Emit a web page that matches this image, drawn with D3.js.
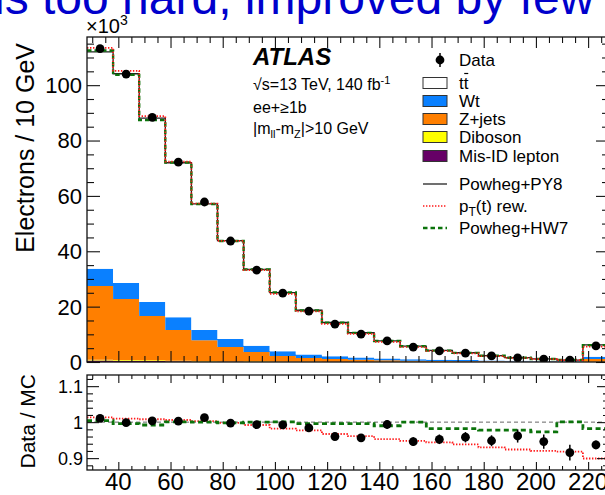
<!DOCTYPE html>
<html><head><meta charset="utf-8">
<script src="https://cdn.jsdelivr.net/npm/d3@7"></script>
<style>
html,body{margin:0;padding:0;background:#fff;}
svg{display:block;font-family:"Liberation Sans",Arial,Helvetica,sans-serif;}
</style></head><body>
<svg id="chart" width="605" height="495"></svg>
<script>
// Electron pT binning in GeV (last bin holds the overflow)
const binEdges = [28,38,48,58,68,78,88,98,108,118,128,138,148,158,168,178,188,198,208,218,228];

// Event counts per bin, in units of 10^3
const dataCounts = [113.2,104.0,88.4,72.2,57.8,43.7,33.2,24.9,18.4,13.7,10.1,7.6,5.4,4.0,3.2,2.2,1.5,1.05,0.65,5.8];
const dataRelErr = [0.004,0.004,0.004,0.005,0.005,0.006,0.007,0.008,0.009,0.010,0.011,0.012,0.013,0.014,0.015,0.016,0.019,0.021,0.024,0.013];
const ttbar   = [78.4,75.6,66.4,55.8,45.5,35.5,27.6,21.2,16.0,12.2,8.96,6.4,4.7,3.37,2.66,1.75,1.08,0.72,0.40,4.3];
const wt      = [6.2,5.8,5.1,4.6,3.7,2.9,2.2,1.7,1.3,1.0,0.8,0.65,0.55,0.45,0.38,0.32,0.27,0.22,0.18,0.8];
const zjets   = [26.6,22.0,16.0,11.1,7.5,5.1,3.4,2.0,1.25,0.95,0.7,0.52,0.4,0.32,0.26,0.21,0.17,0.14,0.11,0.95];
const diboson = [0.30,0.28,0.24,0.20,0.17,0.14,0.11,0.09,0.07,0.06,0.05,0.04,0.03,0.03,0.02,0.02,0.02,0.02,0.01,0.08];
const misid   = [0.55,0.45,0.35,0.28,0.22,0.17,0.13,0.10,0.08,0.06,0.05,0.04,0.03,0.03,0.02,0.02,0.02,0.01,0.01,0.06];

// Alternative predictions relative to the nominal Powheg+PY8 total
const ratioPtRew = [1.013,1.010,1.008,1.006,1.003,0.998,0.992,0.982,0.977,0.967,0.961,0.953,0.948,0.944,0.938,0.930,0.924,0.920,0.918,0.899];
const ratioHW7   = [1.004,0.996,0.992,1.001,1.000,0.998,1.000,1.001,0.996,0.996,0.996,0.990,1.000,0.982,0.982,0.978,0.978,0.973,1.001,0.982];

const xTickLabels = [40,60,80,100,120,140,160,180,200,220];
const yTickMain = [0,20,40,60,80,100];
const yTickRatio = [0.9,1.0,1.1];

const C = {
  ttbar:"#ffffff", wt:"#0a80ff", zjets:"#ff7f00", diboson:"#ffff00", misid:"#660066",
  nominal:"#222222", ptrew:"#ff1a1a", hw7:"#0b730b", frame:"#111111", title:"#0000cc"
};

const svg = d3.select("#chart");
const L = 87, R = 609, T = 37, B1 = 362, T2 = 375, B2 = 470;

const x = d3.scaleLinear().domain([28,228]).range([L,R]);
const y = d3.scaleLinear().domain([0,117.4]).range([B1,T]);
const yr = d3.scaleLinear().domain([0.867,1.131]).range([B2,T2]);

const nb = dataCounts.length;
const rows = d3.range(nb).map(i => ({
  misid: misid[i], diboson: diboson[i], zjets: zjets[i], wt: wt[i], ttbar: ttbar[i]
}));
const keys = ["misid","diboson","zjets","wt","ttbar"];
const stack = d3.stack().keys(keys)(rows);
const total = rows.map(r => keys.reduce((s,k)=>s+r[k],0));
const centers = d3.range(nb).map(i => (binEdges[i]+binEdges[i+1])/2);

// step points: one per edge, last edge repeats final bin
const edgeIdx = d3.range(nb+1);
const binOf = j => Math.min(j, nb-1);

// blue title line across the top
svg.append("text").attr("x",-6).attr("y",14)
  .attr("font-size",48).attr("fill",C.title)
  .text("is too hard, improved by few");

const defs = svg.append("defs");
defs.append("clipPath").attr("id","clipMain").append("rect")
  .attr("x",L).attr("y",T).attr("width",R-L).attr("height",B1-T);
defs.append("clipPath").attr("id","clipRatio").append("rect")
  .attr("x",L).attr("y",T2).attr("width",R-L).attr("height",B2-T2);

// ---------- main panel ----------
const gMain = svg.append("g").attr("clip-path","url(#clipMain)");

const area = d3.area().curve(d3.curveStepAfter)
  .x(j => x(binEdges[j]));
stack.forEach(layer => {
  gMain.append("path")
    .datum(edgeIdx)
    .attr("fill", C[layer.key])
    .attr("d", area.y0(j => y(layer[binOf(j)][0])).y1(j => y(layer[binOf(j)][1])));
});

const stepLine = vals => d3.line().curve(d3.curveStepAfter)
  .x(j => x(binEdges[j])).y(j => vals(binOf(j)));

gMain.append("path").datum(edgeIdx)
  .attr("fill","none").attr("stroke",C.nominal).attr("stroke-width",1.3)
  .attr("d", stepLine(i => y(total[i])));
gMain.append("path").datum(edgeIdx)
  .attr("fill","none").attr("stroke",C.hw7).attr("stroke-width",2.4)
  .attr("stroke-dasharray","4.5,3")
  .attr("d", stepLine(i => y(total[i]*ratioHW7[i])));
gMain.append("path").datum(edgeIdx)
  .attr("fill","none").attr("stroke",C.ptrew).attr("stroke-width",1.7)
  .attr("stroke-dasharray","1.4,1.6")
  .attr("d", stepLine(i => y(total[i]*ratioPtRew[i])));

// data points
const gData = gMain.append("g");
d3.range(nb).forEach(i => {
  const e = dataCounts[i]*dataRelErr[i];
  gData.append("line").attr("x1",x(centers[i])).attr("x2",x(centers[i]))
    .attr("y1",y(dataCounts[i]-e)).attr("y2",y(dataCounts[i]+e))
    .attr("stroke","#000").attr("stroke-width",1.5);
  gData.append("circle").attr("cx",x(centers[i])).attr("cy",y(dataCounts[i]))
    .attr("r",4.4).attr("fill","#000");
});

// ---------- ratio panel ----------
const gRatio = svg.append("g").attr("clip-path","url(#clipRatio)");
gRatio.append("line").attr("x1",L).attr("x2",R).attr("y1",yr(1)).attr("y2",yr(1))
  .attr("stroke","#666").attr("stroke-width",1).attr("stroke-dasharray","4,3");
gRatio.append("path").datum(edgeIdx)
  .attr("fill","none").attr("stroke",C.ptrew).attr("stroke-width",1.8)
  .attr("stroke-dasharray","1.4,1.6")
  .attr("d", stepLine(i => yr(ratioPtRew[i])));
gRatio.append("path").datum(edgeIdx)
  .attr("fill","none").attr("stroke",C.hw7).attr("stroke-width",2.8)
  .attr("stroke-dasharray","5,3.5")
  .attr("d", stepLine(i => yr(ratioHW7[i])));
d3.range(nb).forEach(i => {
  const r = dataCounts[i]/total[i];
  const e = r*dataRelErr[i];
  gRatio.append("line").attr("x1",x(centers[i])).attr("x2",x(centers[i]))
    .attr("y1",yr(r-e)).attr("y2",yr(r+e))
    .attr("stroke","#000").attr("stroke-width",1.5);
  gRatio.append("circle").attr("cx",x(centers[i])).attr("cy",yr(r))
    .attr("r",4.4).attr("fill","#000");
});

// ---------- axes & frames ----------
function ticks(g, axis, size){
  g.call(axis.tickSizeInner(size).tickSizeOuter(0).tickFormat(""));
  g.select(".domain").remove();
  g.selectAll(".tick line").attr("stroke",C.frame).attr("stroke-width",1.1);
}
const xMajor = d3.range(40,228,20);
const xMinor = d3.range(30,228,5).filter(v => v%20!==0);
const yMainMinor = d3.range(5,117,5).filter(v => v%20!==0);
const yRatioMinor = [0.88,0.92,0.94,0.96,0.98,1.02,1.04,1.06,1.08,1.12];

// main panel ticks
ticks(svg.append("g").attr("transform",`translate(0,${B1})`), d3.axisBottom(x).tickValues(xMajor), -11);
ticks(svg.append("g").attr("transform",`translate(0,${B1})`), d3.axisBottom(x).tickValues(xMinor), -6);
ticks(svg.append("g").attr("transform",`translate(0,${T})`), d3.axisTop(x).tickValues(xMajor), -11);
ticks(svg.append("g").attr("transform",`translate(0,${T})`), d3.axisTop(x).tickValues(xMinor), -6);
ticks(svg.append("g").attr("transform",`translate(${L},0)`), d3.axisLeft(y).tickValues(yTickMain), -13);
ticks(svg.append("g").attr("transform",`translate(${L},0)`), d3.axisLeft(y).tickValues(yMainMinor), -7);
ticks(svg.append("g").attr("transform",`translate(${R},0)`), d3.axisRight(y).tickValues(yTickMain), -13);
ticks(svg.append("g").attr("transform",`translate(${R},0)`), d3.axisRight(y).tickValues(yMainMinor), -7);

// ratio panel ticks
ticks(svg.append("g").attr("transform",`translate(0,${B2})`), d3.axisBottom(x).tickValues(xMajor), -8);
ticks(svg.append("g").attr("transform",`translate(0,${B2})`), d3.axisBottom(x).tickValues(xMinor), -4);
ticks(svg.append("g").attr("transform",`translate(0,${T2})`), d3.axisTop(x).tickValues(xMajor), -8);
ticks(svg.append("g").attr("transform",`translate(0,${T2})`), d3.axisTop(x).tickValues(xMinor), -4);
ticks(svg.append("g").attr("transform",`translate(${L},0)`), d3.axisLeft(yr).tickValues(yTickRatio), -12);
ticks(svg.append("g").attr("transform",`translate(${L},0)`), d3.axisLeft(yr).tickValues(yRatioMinor), -6);
ticks(svg.append("g").attr("transform",`translate(${R},0)`), d3.axisRight(yr).tickValues(yTickRatio), -12);
ticks(svg.append("g").attr("transform",`translate(${R},0)`), d3.axisRight(yr).tickValues(yRatioMinor), -6);

[[T,B1],[T2,B2]].forEach(([t,b]) => {
  svg.append("rect").attr("x",L).attr("y",t).attr("width",R-L).attr("height",b-t)
    .attr("fill","none").attr("stroke",C.frame).attr("stroke-width",1.3);
});

// tick labels
const lab = svg.append("g").attr("fill","#000");
yTickMain.forEach(v => lab.append("text").attr("x",82).attr("y",y(v)).attr("dy","0.36em")
  .attr("text-anchor","end").attr("font-size",22).text(v));
yTickRatio.forEach(v => lab.append("text").attr("x",83).attr("y",yr(v)).attr("dy","0.36em")
  .attr("text-anchor","end").attr("font-size",18).text(d3.format("~g")(v)));
xTickLabels.forEach(v => lab.append("text").attr("x",x(v)).attr("y",490)
  .attr("text-anchor","middle").attr("font-size",24).text(v));

// exponent
const ex = svg.append("text").attr("x",86).attr("y",33).attr("font-size",20);
ex.append("tspan").text("×10");
ex.append("tspan").attr("font-size",14).attr("dy",-8).text("3");

// axis titles
svg.append("text").attr("transform","translate(34,43) rotate(-90)")
  .attr("text-anchor","end").attr("font-size",25).text("Electrons / 10 GeV");
svg.append("text").attr("transform","translate(35,374) rotate(-90)")
  .attr("text-anchor","end").attr("font-size",21).text("Data / MC");

// ATLAS label block
svg.append("text").attr("x",253).attr("y",65).attr("font-size",24)
  .attr("font-weight","bold").attr("font-style","italic").text("ATLAS");
const t1 = svg.append("text").attr("x",253).attr("y",90).attr("font-size",16);
t1.append("tspan").text("√s=13 TeV, 140 fb");
t1.append("tspan").attr("font-size",11).attr("dy",-6).text("-1");
svg.append("text").attr("x",253).attr("y",113).attr("font-size",16).text("ee+≥1b");
const t3 = svg.append("text").attr("x",253).attr("y",134).attr("font-size",16);
t3.append("tspan").text("|m");
t3.append("tspan").attr("font-size",11).attr("dy",4).text("ll");
t3.append("tspan").attr("dy",-4).text("-m");
t3.append("tspan").attr("font-size",11).attr("dy",4).text("Z");
t3.append("tspan").attr("dy",-4).text("|>10 GeV");

// legend
const lg = svg.append("g");
const lx = 423, lw = 24, tx = 459;
lg.append("line").attr("x1",440).attr("x2",440).attr("y1",53).attr("y2",67)
  .attr("stroke","#000").attr("stroke-width",1.5);
lg.append("circle").attr("cx",440).attr("cy",60).attr("r",4.4).attr("fill","#000");
lg.append("text").attr("x",tx).attr("y",66).attr("font-size",17).text("Data");

const boxes = [
  {key:"ttbar", cy:83, label:null},
  {key:"wt", cy:101, label:"Wt"},
  {key:"zjets", cy:119, label:"Z+jets"},
  {key:"diboson", cy:137, label:"Diboson"},
  {key:"misid", cy:156, label:"Mis-ID lepton"}
];
boxes.forEach(b => {
  lg.append("rect").attr("x",lx).attr("y",b.cy-5.5).attr("width",lw).attr("height",11)
    .attr("fill",C[b.key]).attr("stroke","#333").attr("stroke-width",1);
  if (b.label) lg.append("text").attr("x",tx).attr("y",b.cy+6).attr("font-size",17).text(b.label);
});
// t tbar label with a bar over the second t
const tt = lg.append("text").attr("x",tx).attr("y",83+6).attr("font-size",17).text("tt");
const tw = tt.node().getComputedTextLength();
lg.append("line").attr("x1",tx+tw/2+0.5).attr("x2",tx+tw-0.2).attr("y1",73.5).attr("y2",73.5)
  .attr("stroke","#000").attr("stroke-width",1.2);

const lines = [
  {cy:184, color:C.nominal, w:1.3, dash:null, label:"Powheg+PY8"},
  {cy:206, color:C.ptrew, w:1.7, dash:"1.4,1.6", label:null},
  {cy:228, color:C.hw7, w:2.4, dash:"4.5,3", label:"Powheg+HW7"}
];
lines.forEach(l => {
  lg.append("line").attr("x1",lx).attr("x2",lx+lw).attr("y1",l.cy).attr("y2",l.cy)
    .attr("stroke",l.color).attr("stroke-width",l.w).attr("stroke-dasharray",l.dash);
  if (l.label) lg.append("text").attr("x",tx).attr("y",l.cy+6).attr("font-size",17).text(l.label);
});
const pt = lg.append("text").attr("x",tx).attr("y",206+6).attr("font-size",17);
pt.append("tspan").text("p");
pt.append("tspan").attr("font-size",12).attr("dy",4).text("T");
pt.append("tspan").attr("dy",-4).text("(t) rew.");
</script>
</body></html>
